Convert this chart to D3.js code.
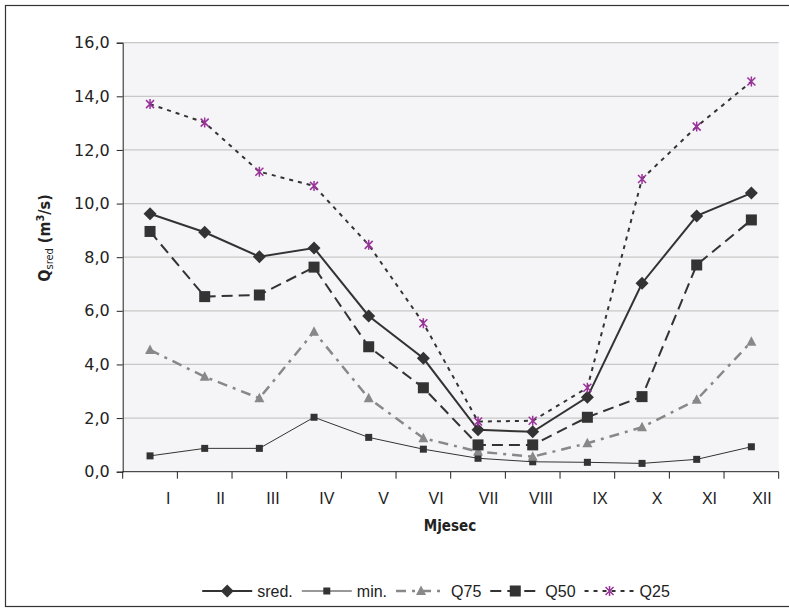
<!DOCTYPE html>
<html>
<head>
<meta charset="utf-8">
<script src="https://cdn.jsdelivr.net/npm/d3@7"></script>
<style>
  body { margin: 0; background: #fff; }
  svg { display: block; }
</style>
</head>
<body>
<svg id="chart" width="789" height="610"></svg>
<script>
var months = ['I', 'II', 'III', 'IV', 'V', 'VI', 'VII', 'VIII', 'IX', 'X', 'XI', 'XII'];
var yTicks = [0, 2, 4, 6, 8, 10, 12, 14, 16];

var sred = [9.62, 8.93, 8.02, 8.34, 5.81, 4.23, 1.56, 1.49, 2.78, 7.03, 9.54, 10.39];
var minQ = [0.59, 0.87, 0.87, 2.03, 1.28, 0.84, 0.50, 0.37, 0.35, 0.31, 0.46, 0.93];
var q75 = [4.54, 3.54, 2.74, 5.22, 2.74, 1.25, 0.75, 0.56, 1.06, 1.66, 2.68, 4.85];
var q50 = [8.96, 6.53, 6.59, 7.63, 4.66, 3.13, 1.00, 1.00, 2.03, 2.80, 7.71, 9.39];
var q25 = [13.71, 13.02, 11.19, 10.66, 8.46, 5.54, 1.87, 1.90, 3.13, 10.92, 12.87, 14.55];

var series = [
    { name: 'sred.', values: sred, stroke: '#333', width: 2, dash: null, marker: 'diamond', fill: '#333' },
    { name: 'min.', values: minQ, stroke: '#333', width: 1, dash: null, marker: 'smallSquare', fill: '#333' },
    { name: 'Q75', values: q75, stroke: '#888', width: 2.5, dash: '10,6,3,6', marker: 'triangle', fill: '#888' },
    { name: 'Q50', values: q50, stroke: '#333', width: 2, dash: '11,6', marker: 'square', fill: '#333' },
    { name: 'Q25', values: q25, stroke: '#333', width: 2, dash: '4,5', marker: 'star', fill: '#993399' }
];

var svg = d3.select('#chart');

// outer frame
svg.append('rect')
    .attr('x', 5.5).attr('y', 5.5)
    .attr('width', 800).attr('height', 601)
    .attr('fill', 'none')
    .attr('stroke', '#333')
    .attr('stroke-width', 1.2);

var plotL = 122.7, plotR = 778.7, plotT = 42.7, plotB = 471.7;

var x = d3.scaleBand().domain(months).range([plotL, plotR]).padding(0);
var y = d3.scaleLinear().domain([0, 16]).range([plotB, plotT]);

function cx(i) { return x(months[i]) + x.bandwidth() / 2; }

// plot area
svg.append('rect')
    .attr('x', plotL).attr('y', plotT)
    .attr('width', plotR - plotL).attr('height', plotB - plotT)
    .attr('fill', '#f5f5f7');

// gridlines
svg.append('g')
    .selectAll('line')
    .data(yTicks.filter(function(d) { return d > 0; }))
    .enter()
    .append('line')
    .attr('x1', plotL).attr('x2', plotR)
    .attr('y1', function(d) { return y(d); })
    .attr('y2', function(d) { return y(d); })
    .attr('stroke', '#c8c8c8')
    .attr('stroke-width', 1.3);

// y axis
var yAxis = svg.append('g')
    .attr('transform', 'translate(' + plotL + ',0)')
    .call(d3.axisLeft(y).tickValues(yTicks).tickSize(6).tickPadding(7)
        .tickFormat(function(d) { return d3.format('.1f')(d).replace('.', ','); }));
yAxis.select('.domain').attr('stroke', '#222');
yAxis.selectAll('.tick line').attr('stroke', '#222');
yAxis.selectAll('text')
    .attr('font-family', 'DejaVu Sans')
    .attr('font-size', 16)
    .attr('fill', '#222');

// x axis: ticks on category boundaries
var bounds = months.map(function(m) { return x(m); }).concat([plotR]);
var xAxis = svg.append('g');
xAxis.append('line')
    .attr('x1', plotL).attr('x2', plotR)
    .attr('y1', plotB).attr('y2', plotB)
    .attr('stroke', '#222');
xAxis.selectAll('line.tk')
    .data(bounds)
    .enter()
    .append('line')
    .attr('class', 'tk')
    .attr('x1', function(d) { return d; })
    .attr('x2', function(d) { return d; })
    .attr('y1', plotB).attr('y2', plotB + 7)
    .attr('stroke', '#222');
xAxis.selectAll('text')
    .data(months)
    .enter()
    .append('text')
    .attr('x', function(d) { return x(d) + x.bandwidth() - 7; })
    .attr('y', 504)
    .attr('text-anchor', 'end')
    .attr('font-family', 'Liberation Sans')
    .attr('font-size', 16)
    .attr('fill', '#222')
    .text(function(d) { return d; });

// axis titles
var yTitle = svg.append('text')
    .attr('transform', 'translate(50,238) rotate(-90)')
    .attr('text-anchor', 'middle')
    .attr('font-family', 'DejaVu Sans Condensed')
    .attr('font-weight', 'bold')
    .attr('font-size', 16)
    .attr('fill', '#222');
yTitle.append('tspan').text('Q');
yTitle.append('tspan').attr('font-size', 11).attr('font-weight', 'normal').attr('dy', 3).text('sred');
yTitle.append('tspan').attr('dy', -3).text(' (m');
yTitle.append('tspan').attr('font-size', 11).attr('dy', -6).text('3');
yTitle.append('tspan').attr('dy', 6).text('/s)');

svg.append('text')
    .attr('x', 450).attr('y', 531)
    .attr('text-anchor', 'middle')
    .attr('font-family', 'DejaVu Sans Condensed')
    .attr('font-weight', 'bold')
    .attr('font-size', 15)
    .attr('fill', '#222')
    .text('Mjesec');

// markers
function drawMarker(g, type, fill) {
    if (type === 'diamond') {
        g.append('path').attr('d', 'M0,-6.5L6.5,0L0,6.5L-6.5,0Z').attr('fill', fill);
    } else if (type === 'square') {
        g.append('rect').attr('x', -5.5).attr('y', -5.5).attr('width', 11).attr('height', 11).attr('fill', fill);
    } else if (type === 'smallSquare') {
        g.append('rect').attr('x', -3.5).attr('y', -3.5).attr('width', 7).attr('height', 7).attr('fill', fill);
    } else if (type === 'triangle') {
        g.append('path').attr('d', 'M0,-5.5L5,4L-5,4Z').attr('fill', fill);
    } else if (type === 'star') {
        g.append('path').attr('d', 'M-4,-4L4,4M-4,4L4,-4M0,-5L0,5')
            .attr('stroke', fill).attr('stroke-width', 1.5).attr('fill', 'none');
    }
}

var line = d3.line()
    .x(function(d, i) { return cx(i); })
    .y(function(d) { return y(d); });

series.forEach(function(s) {
    var g = svg.append('g');
    g.append('path')
        .datum(s.values)
        .attr('d', line)
        .attr('fill', 'none')
        .attr('stroke', s.stroke)
        .attr('stroke-width', s.width)
        .attr('stroke-dasharray', s.dash);
    g.selectAll('g.pt')
        .data(s.values)
        .enter()
        .append('g')
        .attr('class', 'pt')
        .attr('transform', function(d, i) { return 'translate(' + cx(i) + ',' + y(d) + ')'; })
        .each(function() { drawMarker(d3.select(this), s.marker, s.fill); });
});

// legend
var legend = svg.append('g');
var lx = 0, ly = 591, segLen = 50;
series.forEach(function(s) {
    var item = legend.append('g').attr('transform', 'translate(' + lx + ',0)');
    item.append('line')
        .attr('x1', 0).attr('x2', segLen)
        .attr('y1', ly).attr('y2', ly)
        .attr('stroke', s.stroke)
        .attr('stroke-width', s.width)
        .attr('stroke-dasharray', s.dash);
    var m = item.append('g').attr('transform', 'translate(' + segLen / 2 + ',' + ly + ')');
    drawMarker(m, s.marker, s.fill);
    var t = item.append('text')
        .attr('x', segLen + 5).attr('y', ly + 5.5)
        .attr('font-family', 'Liberation Sans')
        .attr('font-size', 16)
        .attr('fill', '#222')
        .text(s.name);
    lx += segLen + 5 + t.node().getComputedTextLength() + 9;
});
legend.attr('transform', 'translate(' + (436 - (lx - 9) / 2) + ',0)');
</script>
</body>
</html>
